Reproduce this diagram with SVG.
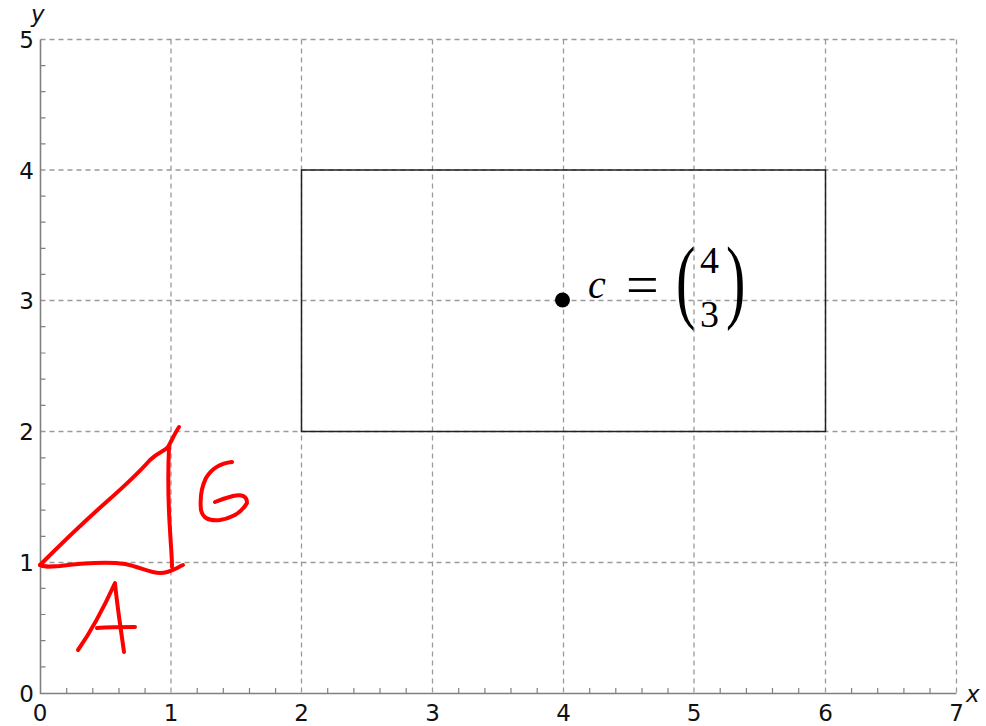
<svg xmlns="http://www.w3.org/2000/svg" width="986" height="726" viewBox="0 0 986 726">
<style>
.grid{stroke:#9a9a9a;stroke-width:1.3;stroke-dasharray:5,4;fill:none}
.axis{stroke:#808080;stroke-width:1.6;fill:none}
.tick{stroke:#808080;stroke-width:1.2}
.lbl{font-family:"DejaVu Sans",sans-serif;font-size:23px;fill:#111}
.red{stroke:#ff0000;stroke-width:4;fill:none;stroke-linecap:round;stroke-linejoin:round}
.math{font-family:"Liberation Serif",serif;fill:#000}
</style>
<rect width="986" height="726" fill="#fff"/>
<g id="grid">
<path class="grid" d="M171 39.5V693M301.5 39.5V693M432.5 39.5V693M563.5 39.5V693M694 39.5V693M825.5 39.5V693M956.5 39.5V693"/>
<path class="grid" d="M40.5 562.5H956.5M40.5 431.5H956.5M40.5 300.5H956.5M40.5 170H956.5M40.5 39.5H956.5"/>
</g>
<g id="axes">
<path class="axis" d="M40.5 39.5V693.5H956.5"/>
<path class="tick" d="M66.7 693v-5M92.8 693v-5M119 693v-5M145.1 693v-5M197.2 693v-5M223.3 693v-5M249.5 693v-5M275.6 693v-5M327.7 693v-5M353.9 693v-5M380 693v-5M406.2 693v-5M458.7 693v-5M484.9 693v-5M511 693v-5M537.2 693v-5M589.7 693v-5M615.8 693v-5M642 693v-5M668 693v-5M720.2 693v-5M746.4 693v-5M772.5 693v-5M798.7 693v-5M851.6 693v-5M877.7 693v-5M903.9 693v-5M930 693v-5"/>
<path class="tick" d="M40.5 666.8h5M40.5 640.6h5M40.5 614.5h5M40.5 588.3h5M40.5 536.3h5M40.5 510.1h5M40.5 484h5M40.5 457.8h5M40.5 405.3h5M40.5 379.1h5M40.5 353h5M40.5 326.7h5M40.5 274.4h5M40.5 248.3h5M40.5 222.2h5M40.5 196.1h5M40.5 143.9h5M40.5 117.8h5M40.5 91.7h5M40.5 65.6h5"/>
<g class="lbl" text-anchor="middle">
<text x="40" y="721">0</text><text x="171" y="721">1</text><text x="301.5" y="721">2</text><text x="432.5" y="721">3</text><text x="563.5" y="721">4</text><text x="694" y="721">5</text><text x="825.5" y="721">6</text><text x="956.5" y="721">7</text>
</g>
<g class="lbl" text-anchor="end">
<text x="34" y="701.5">0</text><text x="34" y="571">1</text><text x="34" y="440">2</text><text x="34" y="309">3</text><text x="34" y="179">4</text><text x="34" y="48">5</text>
</g>
<text class="lbl" x="966" y="702" font-size="25" font-style="italic">x</text>
<text class="lbl" x="31" y="22" font-size="25" font-style="italic">y</text>
</g>
<g id="rect">
<rect x="301.5" y="170" width="524" height="261.5" fill="none" stroke="#222" stroke-width="1.5"/>
</g>
<g id="center">
<circle cx="562.5" cy="300" r="7.5" fill="#000"/>
<text class="math" x="588" y="298" font-size="40" font-style="italic">c</text>
<text class="math" x="626" y="304" font-size="58">=</text>
<text class="math" transform="translate(676 311) scale(0.62 1)" font-size="94">(</text>
<text class="math" x="700" y="273" font-size="38">4</text>
<text class="math" x="700" y="327" font-size="38">3</text>
<text class="math" transform="translate(726 311) scale(0.62 1)" font-size="94">)</text>
</g>
<g id="annotation">
<path class="red" d="M40 565C55 550 75 530 103 505C120 490 135 477 150 460C158 452 165 451 168 447C172 440 175 433 179 427"/>
<path class="red" d="M169 447C168 470 168 500 170 530C171 548 172 558 172 567"/>
<path class="red" d="M40 565C43 567 47 567 60 566C85 563 110 562 125 564C140 567 150 573 160 573C170 573 176 568 183 565"/>
<path class="red" d="M78 650C92 630 105 605 115 583C117 605 121 630 124 652"/>
<path class="red" d="M97 628C110 627 124 627 135 627"/>
<path class="red" d="M232 462C222 463 212 468 206 478C201 488 200 500 201 510C203 518 208 521 220 520C232 518 242 512 247 503C247 496 242 494 233 496C225 498 220 500 215 502"/>
</g>
</svg>
